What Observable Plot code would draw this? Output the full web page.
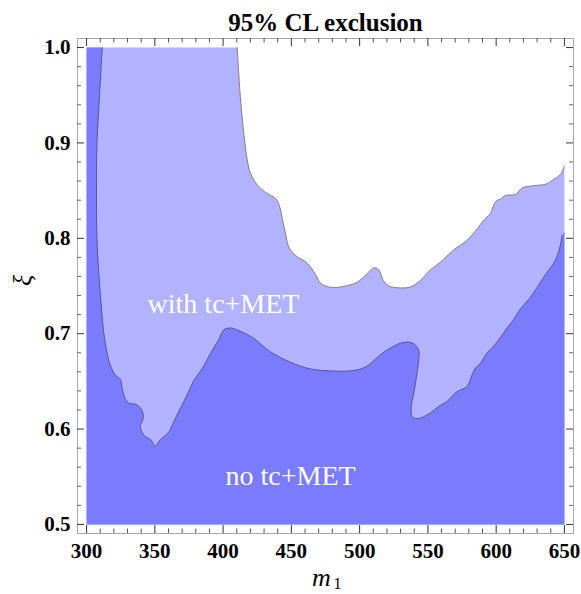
<!DOCTYPE html>
<html><head><meta charset="utf-8">
<script src="https://cdn.jsdelivr.net/npm/d3@7"></script>
<script src="https://cdn.jsdelivr.net/npm/@observablehq/plot@0.6"></script>
<style>body{margin:0;background:#fff}</style>
</head><body><div id="chart"></div>
<script>
// Boundary of the "with tc+MET" excluded region (light), from top edge to right edge
const lightEdgeX = [410.3,412.8,415.7,417.7,420.1,425.0,432.3,438.4,441.5,443.3,445.7,448.1,453.0,461.6,467.7,471.3,477.4,486.0,498.2,505.5,510.4,514.0,517.3,521.4,529.9,537.2,544.6,551.9,559.2,569.0,578.8,586.1,590.9,595.8,598.2,600.7,603.1,606.8,614.1,619.2,626.6,636.8,641.2,647.1,650.0];
const lightEdgeY = [1.000,0.945,0.903,0.882,0.868,0.856,0.847,0.842,0.833,0.821,0.805,0.791,0.782,0.774,0.762,0.753,0.749,0.749,0.754,0.763,0.769,0.767,0.756,0.750,0.748,0.749,0.756,0.767,0.775,0.788,0.798,0.810,0.819,0.826,0.835,0.840,0.841,0.845,0.846,0.853,0.855,0.857,0.861,0.867,0.876];
// Boundary of the "no tc+MET" excluded region (dark), from top edge to right edge
const darkEdgeX = [311.5,309.5,307.6,307.3,307.6,309.6,312.7,314.6,317.6,321.5,324.9,326.1,328.6,331.0,335.9,339.5,341.5,340.8,339.5,340.1,343.2,346.9,350.5,352.9,356.6,360.3,363.9,368.8,373.7,378.6,385.0,391.0,396.9,400.5,405.4,410.3,417.7,422.5,434.7,449.4,464.0,478.7,493.3,504.3,515.3,522.6,529.9,537.2,540.9,543.3,543.3,542.1,539.7,537.8,538.5,542.1,547.0,551.9,558.0,564.1,570.2,573.9,578.8,582.4,584.8,588.5,593.4,598.2,603.1,608.0,612.9,617.8,623.9,628.8,636.1,643.4,647.1,648.5,650.0];
const darkEdgeY = [1.000,0.950,0.900,0.860,0.800,0.750,0.700,0.683,0.666,0.656,0.652,0.642,0.631,0.627,0.626,0.622,0.615,0.608,0.605,0.598,0.592,0.589,0.582,0.587,0.592,0.597,0.608,0.622,0.636,0.651,0.664,0.680,0.694,0.704,0.706,0.704,0.699,0.695,0.681,0.670,0.663,0.661,0.661,0.665,0.678,0.685,0.690,0.691,0.688,0.683,0.673,0.659,0.638,0.624,0.613,0.611,0.613,0.617,0.624,0.629,0.638,0.641,0.645,0.657,0.664,0.669,0.680,0.687,0.696,0.706,0.715,0.726,0.736,0.746,0.762,0.777,0.793,0.803,0.805];

const xTicks = [300,350,400,450,500,550,600,650];
const xMinor = [310,320,330,340,360,370,380,390,410,420,430,440,460,470,480,490,510,520,530,540,560,570,580,590,610,620,630,640];
const yTicks = [0.5,0.6,0.7,0.8,0.9,1.0];
const yMinor = [0.52,0.54,0.56,0.58,0.62,0.64,0.66,0.68,0.72,0.74,0.76,0.78,0.82,0.84,0.86,0.88,0.92,0.94,0.96,0.98];

const title = "95% CL exclusion";
const regionLabels = [
  {x: 400.3, y: 0.731, text: "with tc+MET"},
  {x: 449.4, y: 0.551, text: "no tc+MET"}
];

const xRange = [300, 650], yRange = [0.5, 1.0];
const xDom = [xRange[0] - 0.019*350, xRange[1] + 0.019*350];
const yDom = [yRange[0] - 0.019*0.5, yRange[1] + 0.019*0.5];

const pts = (xs, ys) => xs.map((x, i) => ({x, y: ys[i]}));
const lightEdge = pts(lightEdgeX, lightEdgeY);
const darkEdge = pts(darkEdgeX, darkEdgeY);
// closed polygons; corner points repeated so the smooth curve keeps sharp corners
const poly = edge => {
  const a = {x: xRange[0], y: yRange[0]}, b = {x: xRange[0], y: yRange[1]}, c = {x: xRange[1], y: yRange[0]};
  const first = edge[0], last = edge[edge.length - 1];
  return [a, a, b, b, first, ...edge, last, c, c, a];
};
const lightPoly = poly(lightEdge);
const darkPoly = poly(darkEdge);

const H = 594, mTop = 38, mBottom = 61;
const pxY = (H - mTop - mBottom) / (yDom[1] - yDom[0]);
const pxX = (581 - 77 - 8) / (xDom[1] - xDom[0]);
const dyU = p => p / pxY, dxU = p => p / pxX;
const serif = "'Liberation Serif','DejaVu Serif',serif";

const tickRulesX = (vals, len, color) => [
  Plot.ruleX(vals, {x: d => d, y1: yDom[0], y2: yDom[0] + dyU(len), stroke: color, strokeWidth: 1}),
  Plot.ruleX(vals, {x: d => d, y1: yDom[1], y2: yDom[1] - dyU(len), stroke: color, strokeWidth: 1})
];
const tickRulesY = (vals, len, color) => [
  Plot.ruleY(vals, {y: d => d, x1: xDom[0], x2: xDom[0] + dxU(len), stroke: color, strokeWidth: 1}),
  Plot.ruleY(vals, {y: d => d, x1: xDom[1], x2: xDom[1] - dxU(len), stroke: color, strokeWidth: 1})
];

const chart = Plot.plot({
  width: 581, height: H,
  marginLeft: 77, marginRight: 8, marginTop: mTop, marginBottom: mBottom,
  style: {fontFamily: serif, background: "#fff", color: "#000"},
  x: {domain: xDom},
  y: {domain: yDom},
  marks: [
    Plot.line(lightPoly, {x: "x", y: "y", fill: "#b2b2fe", stroke: "none", curve: "catmull-rom"}),
    Plot.line(darkPoly, {x: "x", y: "y", fill: "#7b7bfe", stroke: "none", curve: "catmull-rom"}),
    Plot.line(lightEdge, {x: "x", y: "y", stroke: "#808080", strokeWidth: 1, curve: "catmull-rom"}),
    Plot.line(darkEdge, {x: "x", y: "y", stroke: "#55559a", strokeWidth: 1, curve: "catmull-rom"}),
    Plot.text(regionLabels, {x: "x", y: "y", text: "text", fill: "#fff", fontSize: 28, fontFamily: serif, lineAnchor: "middle"}),
    Plot.frame({stroke: "#a8a8a8", strokeWidth: 1}),
    ...tickRulesX(xMinor, 4.5, "#555"),
    ...tickRulesX(xTicks, 8, "#333"),
    ...tickRulesY(yMinor, 4, "#666"),
    ...tickRulesY(yTicks, 7, "#333"),
    Plot.axisX({ticks: xTicks, tickSize: 0, tickPadding: 10, fontSize: 21, fontWeight: "bold", label: null, tickFormat: d => String(d)}),
    Plot.axisY({ticks: yTicks, tickSize: 0, tickPadding: 7, fontSize: 21, fontWeight: "bold", label: null, tickFormat: d => d.toFixed(1)}),
    Plot.text([title], {frameAnchor: "top", dy: -16, fontSize: 25, fontWeight: "bold", lineAnchor: "middle", fill: "#000"}),
    Plot.text(["m"], {frameAnchor: "bottom", dy: 44, dx: -4, fontSize: 26, fontStyle: "italic", lineAnchor: "middle", fill: "#000"}),
    Plot.text(["1"], {frameAnchor: "bottom", dy: 50, dx: 12, fontSize: 16, lineAnchor: "middle", fill: "#000"}),
    Plot.text(["ξ"], {frameAnchor: "left", dx: -55, rotate: -90, fontSize: 26, fontStyle: "italic", lineAnchor: "middle", fill: "#000"})
  ]
});
document.getElementById("chart").appendChild(chart);
</script>
</body></html>
